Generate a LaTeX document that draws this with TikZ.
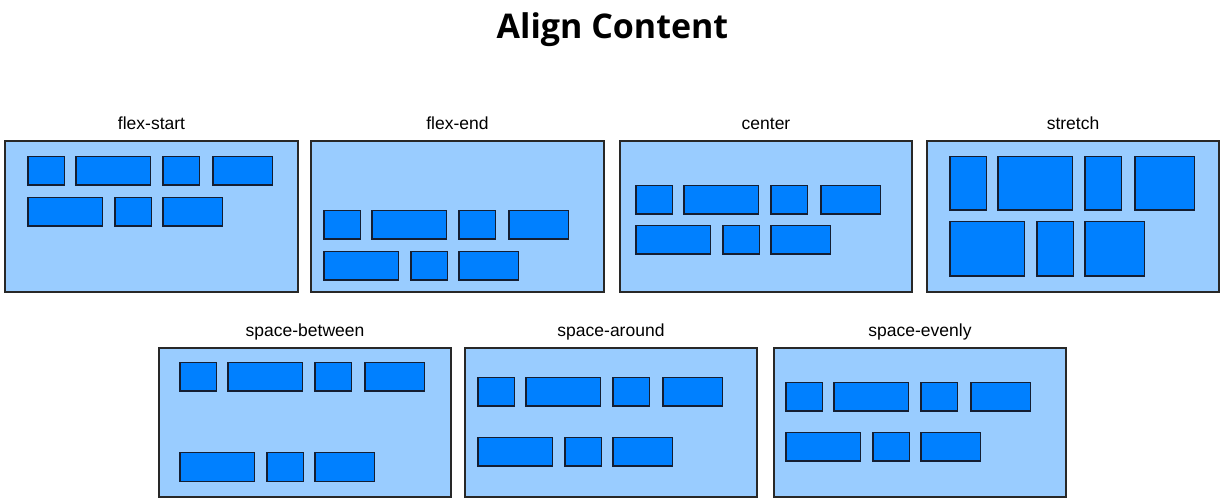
\documentclass[tikz,border=0pt]{standalone}
\usepackage{fontspec}
\setmainfont{Liberation Sans}
\newfontfamily\titlefont{Open Sans}
\definecolor{panelfill}{RGB}{153,204,255}
\definecolor{itemfill}{RGB}{0,128,255}
\definecolor{panelline}{RGB}{40,40,40}
\definecolor{itemline}{RGB}{20,30,50}
\tikzset{
  panel/.style={fill=panelfill, draw=panelline, line width=1.5pt},
  flexitem/.style={fill=itemfill, draw=itemline, line width=1.6pt},
  caption/.style={anchor=base, font=\fontsize{17.5}{20}\selectfont, inner sep=0pt},
  heading/.style={anchor=base, font=\titlefont\bfseries\fontsize{34}{38}\selectfont, inner sep=0pt}
}
% #1 start x, #2 row1 top, #3 row1 bottom, #4 row2 top, #5 row2 bottom
\newcommand{\itemrows}[5]{%
  \draw[flexitem] (#1+0.7,#2+0.7) rectangle ++(36.6,#3-#2-1.4);
  \draw[flexitem] (#1+48.7,#2+0.7) rectangle ++(74.6,#3-#2-1.4);
  \draw[flexitem] (#1+135.7,#2+0.7) rectangle ++(36.6,#3-#2-1.4);
  \draw[flexitem] (#1+185.7,#2+0.7) rectangle ++(59.6,#3-#2-1.4);
  \draw[flexitem] (#1+0.7,#4+0.7) rectangle ++(74.6,#5-#4-1.4);
  \draw[flexitem] (#1+87.7,#4+0.7) rectangle ++(36.6,#5-#4-1.4);
  \draw[flexitem] (#1+135.7,#4+0.7) rectangle ++(59.6,#5-#4-1.4);
}
\begin{document}
\begin{tikzpicture}[x=1pt,y=-1pt]
\useasboundingbox[fill=white] (0,0) rectangle (1224,502);
\node[heading] (title) at (612.5,39) {Align Content};

% top row
\node[caption] (l1) at (151.5,130) {flex-start};
\draw[panel] (5,141) rectangle (298,292);
\itemrows{27}{156}{186}{197}{227}

\node[caption] (l2) at (457.5,130) {flex-end};
\draw[panel] (311,141) rectangle (604,292);
\itemrows{323}{210}{240}{251}{281}

\node[caption] (l3) at (766,130) {center};
\draw[panel] (620,141) rectangle (912,292);
\itemrows{635}{185}{215}{225}{255}

\node[caption] (l4) at (1073,130) {stretch};
\draw[panel] (927,141) rectangle (1219,292);
\itemrows{949}{156}{211}{221}{277}

% bottom row
\node[caption] (l5) at (305,337) {space-between};
\draw[panel] (159,348) rectangle (451,497);
\itemrows{179}{362}{392}{452}{482}

\node[caption] (l6) at (611,337) {space-around};
\draw[panel] (465,348) rectangle (757,497);
\itemrows{477}{377}{407}{437}{467}

\node[caption] (l7) at (920,337) {space-evenly};
\draw[panel] (774,348) rectangle (1066,497);
\itemrows{785}{382}{412}{432}{462}
\end{tikzpicture}
\end{document}
